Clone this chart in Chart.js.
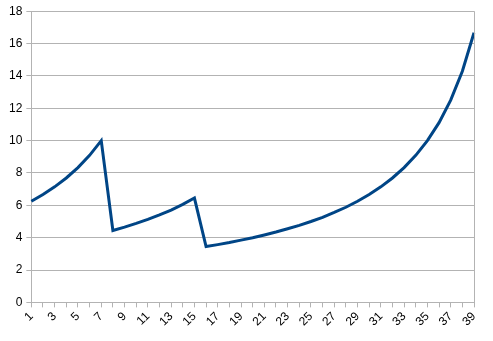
<!DOCTYPE html>
<html>
<head>
<meta charset="utf-8">
<script src="https://cdn.jsdelivr.net/npm/chart.js@4/dist/chart.umd.min.js"></script>
<style>
    html, body { margin: 0; padding: 0; background: #fff; }
    #wrap { width: 493px; height: 341px; }
</style>
</head>
<body>
<div id="wrap"><canvas id="chartLine"></canvas></div>
<script>
'use strict';

const CATEGORIES = [];
for (let i = 1; i <= 39; i++) CATEGORIES.push(String(i));

// values, segment by segment
const SEGMENT_A = [6.25, 6.67, 7.14, 7.69, 8.33, 9.09, 10.0];
const SEGMENT_B = [4.44, 4.65, 4.88, 5.13, 5.41, 5.71, 6.06, 6.45];
const SEGMENT_C = [3.45, 3.57, 3.70, 3.85, 4.00, 4.17, 4.35, 4.55, 4.76, 5.00,
                   5.26, 5.56, 5.88, 6.25, 6.67, 7.14, 7.69, 8.33, 9.09, 10.0,
                   11.11, 12.50, 14.29, 16.67];
const SERIES = SEGMENT_A.concat(SEGMENT_B, SEGMENT_C);

const Y_TICKS = [0, 2, 4, 6, 8, 10, 12, 14, 16, 18];

const GRID = '#b3b3b3';

// frame round the plot area
const frame = {
    id: 'frame',
    afterDraw(chart) {
        const { ctx, chartArea } = chart;
        ctx.save();
        ctx.strokeStyle = GRID;
        ctx.lineWidth = 1;
        ctx.beginPath();
        ctx.moveTo(Math.round(chartArea.right) + 0.5, chartArea.top);
        ctx.lineTo(Math.round(chartArea.right) + 0.5, chartArea.bottom);
        ctx.stroke();
        ctx.restore();
    }
};

const data = {
    labels: CATEGORIES,
    datasets: [
        {
            data: SERIES,
            borderColor: '#004586',
            backgroundColor: '#004586',
            borderWidth: 3,
            pointRadius: 0,
            tension: 0,
            fill: false
        }
    ]
};

const config = {
    type: 'line',
    data,
    plugins: [frame],
    options: {
        responsive: true,
        maintainAspectRatio: false,
        animation: false,
        layout: { padding: { top: 11, right: 19, left: 5, bottom: 10 } },
        plugins: {
            legend: { display: false },
            tooltip: { enabled: false }
        },
        scales: {
            x: {
                offset: false,
                border: { color: GRID },
                grid: {
                    color: GRID,
                    drawOnChartArea: false,
                    drawTicks: true,
                    tickLength: 5
                },
                ticks: {
                    autoSkip: false,
                    maxRotation: 45,
                    minRotation: 45,
                    color: '#000',
                    padding: 2,
                    font: { family: 'Liberation Sans', size: 12 },
                    callback: function (value, index) {
                        return index % 2 === 0 ? CATEGORIES[index] : '';
                    }
                }
            },
            y: {
                min: 0,
                max: 18,
                border: { color: GRID },
                grid: { color: GRID, tickLength: 5 },
                afterBuildTicks: function (axis) {
                    axis.ticks = Y_TICKS.map(v => ({ value: v }));
                },
                ticks: {
                    color: '#000',
                    padding: 4,
                    font: { family: 'Liberation Sans', size: 12 }
                }
            }
        }
    }
};

var chartLine = new Chart(document.getElementById('chartLine'), config);
</script>
</body>
</html>
